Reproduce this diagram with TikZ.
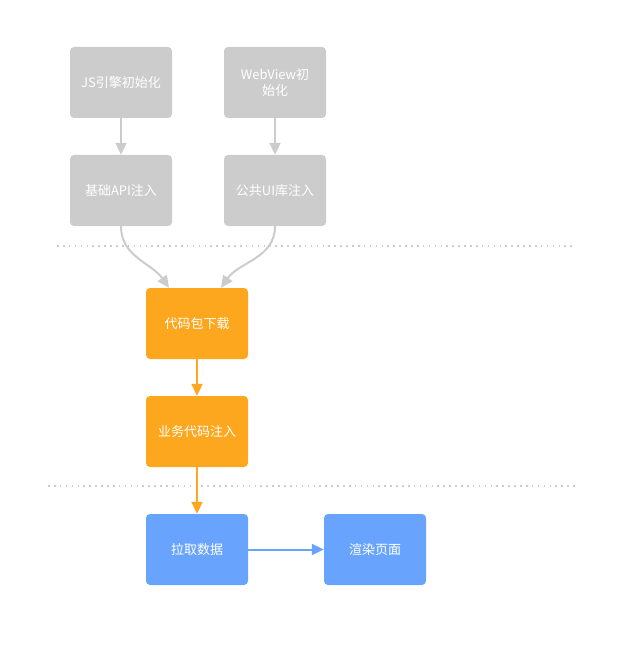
\documentclass[tikz,border=0pt]{standalone}
\usepackage{fontspec}
\newfontfamily\cjk{Noto Sans CJK SC}
\usetikzlibrary{arrows.meta,positioning}

\definecolor{boxgray}{HTML}{CCCCCC}
\definecolor{boxorange}{HTML}{FCA71E}
\definecolor{boxblue}{HTML}{68A4FE}

\tikzset{
  stepbox/.style={rounded corners=4pt, minimum width=102pt, minimum height=71pt,
    text=white, font=\cjk\fontsize{13}{16}\selectfont, align=center, text width=92pt},
  graybox/.style={stepbox, fill=boxgray},
  orangebox/.style={stepbox, fill=boxorange},
  bluebox/.style={stepbox, fill=boxblue},
  flow/.style={line width=2pt, -{Triangle[width=11pt,length=12pt]}},
  sep/.style={boxgray, line width=1.6pt, dash pattern=on 1.6pt off 4.3pt}
}

\begin{document}
\begin{tikzpicture}[x=1pt,y=1pt]
    \useasboundingbox (0,0) rectangle (637,-647);
    % preparation
    \node[graybox] (js) at (121,-82.5) {JS引擎初始化};
    \node[graybox] (webview) at (275,-82.5) {WebView初\\始化};
    \node[graybox] (api) at (121,-190.5) {基础API注入};
    \node[graybox] (uilib) at (275,-190.5) {公共UI库注入};
    \draw[sep] (57,-246) -- (573,-246);
    % business code
    \node[orangebox] (download) at (197,-323.5) {代码包下载};
    \node[orangebox] (inject) at (197,-431.5) {业务代码注入};
    \draw[sep] (48,-486) -- (575,-486);
    % render
    \node[bluebox] (fetch) at (197,-549.5) {拉取数据};
    \node[bluebox] (render) at (375,-549.5) {渲染页面};

    \draw[flow, boxgray] (js) -- (api);
    \draw[flow, boxgray] (webview) -- (uilib);
    \draw[flow, boxgray] (api.south) to[out=-90,in=125] ([xshift=-28pt]download.north);
    \draw[flow, boxgray] (uilib.south) to[out=-90,in=55] ([xshift=24pt]download.north);
    \draw[flow, boxorange] (download) -- (inject);
    \draw[flow, boxorange] (inject) -- (fetch);
    \draw[flow, boxblue] (fetch) -- (render);
\end{tikzpicture}
\end{document}
